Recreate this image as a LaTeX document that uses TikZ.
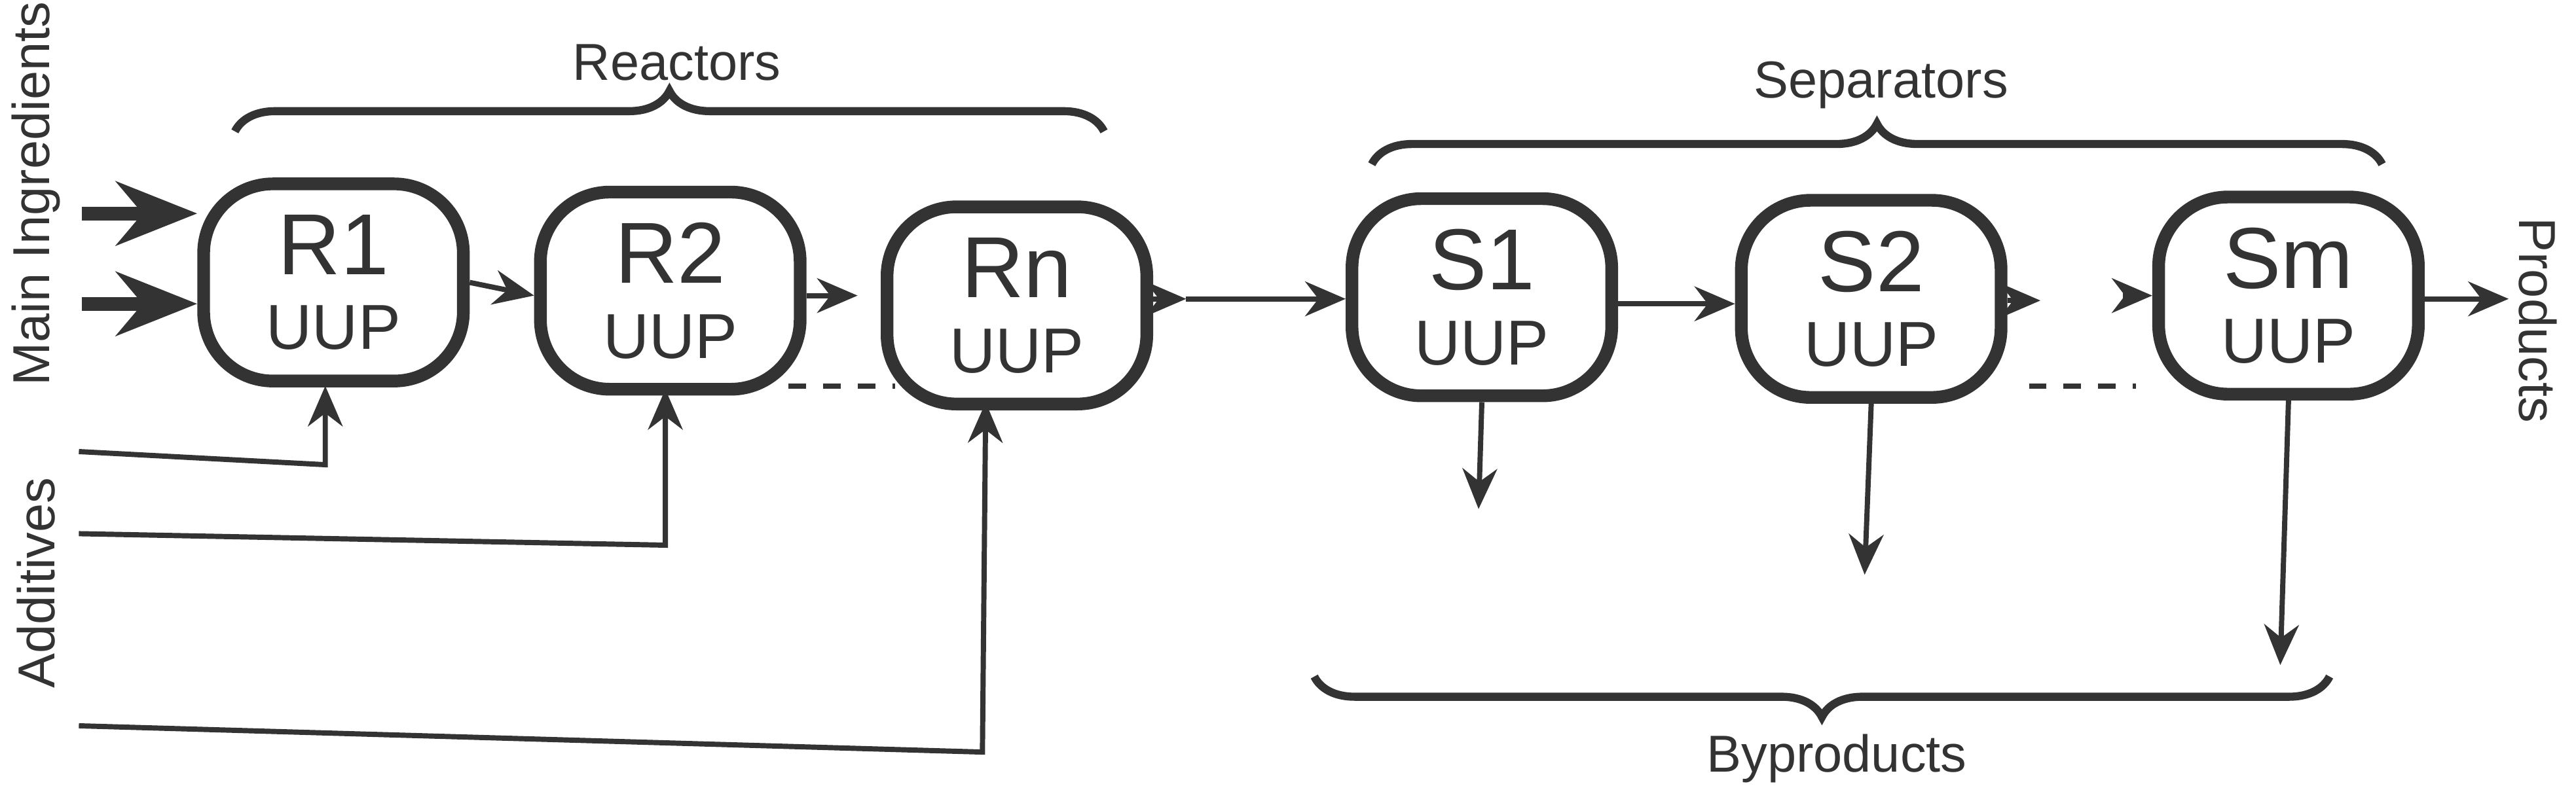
\documentclass[tikz,border=0pt]{standalone}
\usepackage{fontspec}
\setmainfont{Liberation Sans}
\usetikzlibrary{arrows.meta,decorations.pathreplacing}

\tikzset{
  unit/.style={draw=black!80,line width=2.2pt,rounded corners=12pt,minimum width=1.58cm,minimum height=1.2cm,align=center,text=black!80},
  flow/.style={draw=black!80,line width=0.9pt,-{Stealth[length=7pt,width=6pt]}},
  feed/.style={draw=black!80,line width=2.4pt,-{Stealth[length=14pt,width=11pt]}},
  gap/.style={draw=black!80,line width=0.9pt,dashed},
  group/.style={draw=black!80,line width=1.4pt,decorate,decoration={brace,amplitude=7pt}},
  label/.style={text=black!80,font=\fontsize{9}{11}\selectfont}
}
\newcommand{\unitname}[1]{{\fontsize{15}{17}\selectfont #1}\\[1pt]{\fontsize{11}{13}\selectfont UUP}}

\begin{document}
\begin{tikzpicture}[x=0.01cm,y=-0.01cm]
\useasboundingbox (0,0) rectangle (1568,490);

% units
\node[unit] (r1) at (203,172) {\unitname{R1}};
\node[unit] (r2) at (408,177) {\unitname{R2}};
\node[unit] (rn) at (619,186) {\unitname{Rn}};
\node[unit] (s1) at (902,181) {\unitname{S1}};
\node[unit] (s2) at (1139,182) {\unitname{S2}};
\node[unit] (sm) at (1393,180) {\unitname{Sm}};

% side labels
\node[label,rotate=90] (main) at (22,118) {Main Ingredients};
\node[label,rotate=90] (add) at (22,355) {Additives};
\node[label,rotate=-90] (prod) at (1545,195) {Products};

% main ingredients
\coordinate (m1) at (50,130);
\coordinate (m2) at (50,185);
\draw[feed] (m1) -- (r1.west |- 0,130);
\draw[feed] (m2) -- (r1.west |- 0,185);

% additives
\coordinate (a1) at (48,275);
\coordinate (a2) at (48,325);
\coordinate (a3) at (48,442);
\draw[flow] (a1) -- (198,283) -- (198,235);
\draw[flow] (a2) -- (405,332) -- (405,237);
\draw[flow] (a3) -- (598,458) -- (600,245);

% reactor chain
\draw[flow] (r1.east) -- (r2.west |- 0,180);
\coordinate (r2x) at (522,180);
\draw[flow] (r2.east |- 0,180) -- (r2x);
\draw[gap] (480,235) -- (545,235);
\coordinate (rnx) at (722,182);
\draw[flow] (rn.east |- 0,182) -- (rnx);
\draw[flow] (rnx) -- (s1.west |- 0,182);

% separator chain
\draw[flow] (s1.east |- 0,185) -- (s2.west |- 0,185);
\coordinate (s2x) at (1242,183);
\draw[flow] (s2.east |- 0,183) -- (s2x);
\draw[gap] (1235,235) -- (1300,235);
\coordinate (smx) at (1292,180);
\draw[flow] (smx) -- (sm.west |- 0,180);
\coordinate (px) at (1527,182);
\draw[flow] (sm.east |- 0,182) -- (px);

% byproducts
\coordinate (b1) at (900,310);
\coordinate (b2) at (1135,350);
\coordinate (b3) at (1388,405);
\draw[flow] (s1.south) -- (b1);
\draw[flow] (s2.south) -- (b2);
\draw[flow] (sm.south) -- (b3);

% groups
\draw[group] (143,80) -- (672,80);
\node[label] (reac) at (412,38) {Reactors};
\draw[group] (835,100) -- (1450,100);
\node[label] (sep) at (1145,52) {Separators};
\draw[group] (1418,412) -- (800,412);
\node[label] (byp) at (1118,462) {Byproducts};
\end{tikzpicture}
\end{document}
